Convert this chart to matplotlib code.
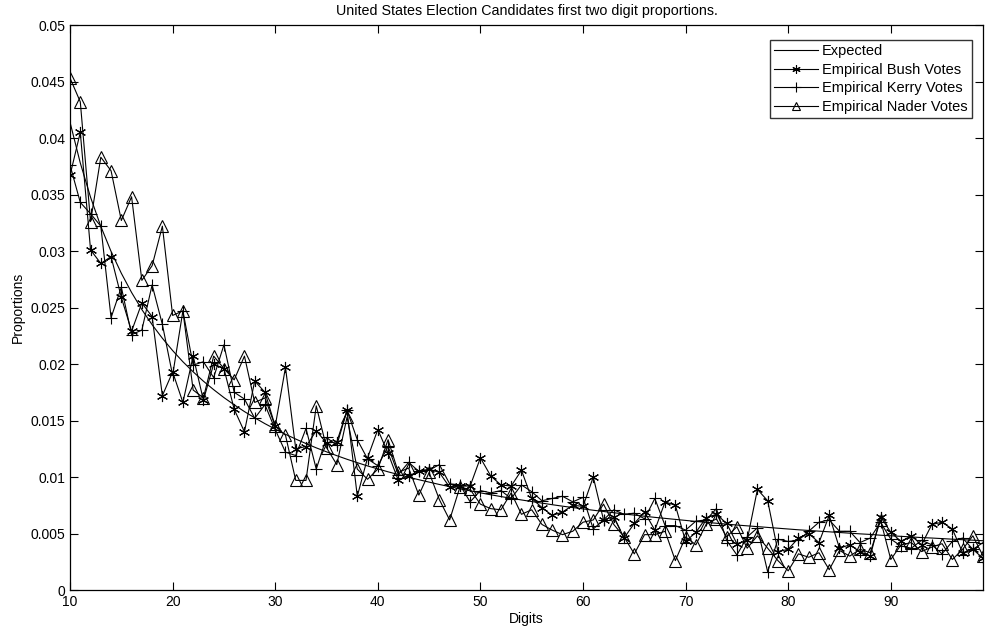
import matplotlib
matplotlib.use("Agg")
import matplotlib.pyplot as plt

plt.rcParams["font.family"] = ["Liberation Sans", "DejaVu Sans"]

digits = list(range(10, 100))

expected = [
    0.04139, 0.03779, 0.03476, 0.03218, 0.02996, 0.02803, 0.02633, 0.02482, 0.02348, 0.02228,
    0.02119, 0.02020, 0.01931, 0.01848, 0.01773, 0.01703, 0.01639, 0.01579, 0.01524, 0.01472,
    0.01424, 0.01378, 0.01336, 0.01296, 0.01258, 0.01223, 0.01189, 0.01157, 0.01127, 0.01098,
    0.01072, 0.01046, 0.01022, 0.00998, 0.00976, 0.00955, 0.00934, 0.00915, 0.00896, 0.00878,
    0.00860, 0.00843, 0.00827, 0.00812, 0.00797, 0.00783, 0.00769, 0.00755, 0.00742, 0.00730,
    0.00718, 0.00706, 0.00695, 0.00684, 0.00673, 0.00663, 0.00653, 0.00643, 0.00634, 0.00625,
    0.00616, 0.00607, 0.00599, 0.00591, 0.00583, 0.00575, 0.00568, 0.00561, 0.00554, 0.00547,
    0.00540, 0.00533, 0.00527, 0.00521, 0.00515, 0.00509, 0.00503, 0.00497, 0.00492, 0.00485,
    0.00480, 0.00475, 0.00470, 0.00464, 0.00460, 0.00455, 0.00450, 0.00445, 0.00441, 0.00436,
]

bush = [
    0.0367, 0.0405, 0.0301, 0.0289, 0.0295, 0.0259, 0.0229, 0.0254, 0.0242, 0.0172,
    0.0193, 0.0166, 0.0207, 0.0168, 0.0200, 0.0196, 0.0160, 0.0140, 0.0185, 0.0175,
    0.0145, 0.0197, 0.0125, 0.0127, 0.0141, 0.0130, 0.0131, 0.0159, 0.0083, 0.0117,
    0.0142, 0.0121, 0.0097, 0.0101, 0.0105, 0.0107, 0.0104, 0.0091, 0.0092, 0.0092,
    0.0117, 0.0101, 0.0093, 0.0092, 0.0106, 0.0081, 0.0073, 0.0066, 0.0069, 0.0075,
    0.0074, 0.0100, 0.0062, 0.0065, 0.0046, 0.0059, 0.0069, 0.0053, 0.0078, 0.0075,
    0.0043, 0.0051, 0.0064, 0.0067, 0.0059, 0.0041, 0.0044, 0.0089, 0.0079, 0.0034,
    0.0036, 0.0046, 0.0050, 0.0042, 0.0066, 0.0037, 0.0040, 0.0034, 0.0030, 0.0065,
    0.0051, 0.0043, 0.0048, 0.0040, 0.0058, 0.0060, 0.0054, 0.0033, 0.0036, 0.0028,
]

kerry = [
    0.0376, 0.0343, 0.0333, 0.0322, 0.0241, 0.0268, 0.0226, 0.0230, 0.0270, 0.0235,
    0.0190, 0.0247, 0.0199, 0.0202, 0.0188, 0.0217, 0.0175, 0.0169, 0.0152, 0.0164,
    0.0142, 0.0122, 0.0119, 0.0143, 0.0107, 0.0135, 0.0128, 0.0159, 0.0133, 0.0116,
    0.0110, 0.0127, 0.0102, 0.0113, 0.0105, 0.0106, 0.0111, 0.0094, 0.0093, 0.0078,
    0.0088, 0.0086, 0.0088, 0.0081, 0.0093, 0.0087, 0.0079, 0.0081, 0.0083, 0.0078,
    0.0082, 0.0054, 0.0062, 0.0071, 0.0067, 0.0068, 0.0063, 0.0081, 0.0057, 0.0057,
    0.0053, 0.0061, 0.0062, 0.0072, 0.0044, 0.0031, 0.0047, 0.0055, 0.0016, 0.0045,
    0.0043, 0.0044, 0.0052, 0.0060, 0.0062, 0.0052, 0.0052, 0.0042, 0.0046, 0.0060,
    0.0045, 0.0039, 0.0037, 0.0044, 0.0040, 0.0032, 0.0043, 0.0046, 0.0036, 0.0042,
]

nader = [
    0.0453, 0.0432, 0.0326, 0.0383, 0.0371, 0.0327, 0.0348, 0.0274, 0.0287, 0.0322,
    0.0243, 0.0247, 0.0177, 0.0170, 0.0207, 0.0196, 0.0186, 0.0207, 0.0166, 0.0170,
    0.0145, 0.0137, 0.0097, 0.0097, 0.0163, 0.0126, 0.0111, 0.0153, 0.0107, 0.0098,
    0.0107, 0.0133, 0.0104, 0.0108, 0.0084, 0.0104, 0.0080, 0.0062, 0.0091, 0.0089,
    0.0076, 0.0072, 0.0071, 0.0086, 0.0067, 0.0071, 0.0058, 0.0053, 0.0049, 0.0052,
    0.0060, 0.0062, 0.0076, 0.0058, 0.0047, 0.0032, 0.0049, 0.0049, 0.0052, 0.0026,
    0.0047, 0.0040, 0.0058, 0.0063, 0.0047, 0.0056, 0.0037, 0.0048, 0.0037, 0.0026,
    0.0017, 0.0032, 0.0029, 0.0033, 0.0018, 0.0035, 0.0030, 0.0036, 0.0033, 0.0062,
    0.0027, 0.0040, 0.0042, 0.0034, 0.0038, 0.0041, 0.0027, 0.0036, 0.0048, 0.0030,
]

y_ticks = [0, 0.005, 0.01, 0.015, 0.02, 0.025, 0.03, 0.035, 0.04, 0.045, 0.05]
y_labels = ["0", "0.005", "0.01", "0.015", "0.02", "0.025", "0.03", "0.035", "0.04", "0.045", "0.05"]
x_ticks = [10, 20, 30, 40, 50, 60, 70, 80, 90]

fig = plt.figure(figsize=(9.85, 6.33), dpi=100)
ax = fig.add_axes([0.0711, 0.0679, 0.927, 0.8926])

asterisk = (6, 2, 0)
ax.plot(digits, expected, color="black", linewidth=0.8, label="Expected")
ax.plot(digits, bush, color="black", linewidth=0.8, marker=asterisk, markersize=8,
        markeredgewidth=0.8, label="Empirical Bush Votes")
ax.plot(digits, kerry, color="black", linewidth=0.8, marker="+", markersize=9,
        markeredgewidth=0.8, label="Empirical Kerry Votes")
ax.plot(digits, nader, color="black", linewidth=0.8, marker="^", markersize=8,
        markerfacecolor="none", markeredgewidth=0.8, label="Empirical Nader Votes")

ax.set_xlim(10, 99)
ax.set_ylim(0, 0.05)
ax.set_xticks(x_ticks)
ax.set_yticks(y_ticks)
ax.set_yticklabels(y_labels)
ax.tick_params(direction="in", top=True, right=True, labelsize=10, length=6, width=0.8)
for s in ax.spines.values():
    s.set_linewidth(0.9)

ax.set_xlabel("Digits", fontsize=10, labelpad=2)
ax.set_ylabel("Proportions", fontsize=10, labelpad=4)
ax.set_title("United States Election Candidates first two digit proportions.", fontsize=10.3, pad=7)

leg = ax.legend(loc="upper right", fontsize=10.5, frameon=True, fancybox=False,
                edgecolor="black", bbox_to_anchor=(0.988, 0.974), borderaxespad=0,
                handlelength=3.0, labelspacing=0.32, markerscale=0.75,
                borderpad=0.3, handletextpad=0.3)
leg.get_frame().set_linewidth(1.0)

fig.savefig("out.png", dpi=100)
